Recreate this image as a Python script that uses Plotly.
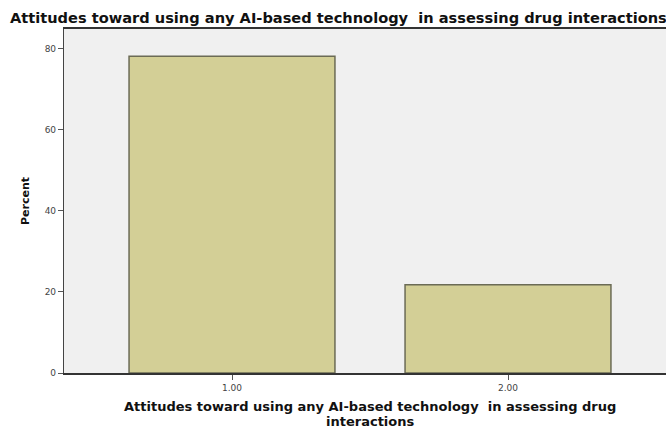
import plotly.graph_objects as go

categories = [1, 2]
tick_labels = ["1.00", "2.00"]
percent = [78.2, 21.8]
y_ticks = [0, 20, 40, 60, 80]

title_text = "Attitudes toward using any AI-based technology  in assessing drug interactions"
x_title_line1 = "Attitudes toward using any AI-based technology  in assessing drug"
x_title_line2 = "interactions"

fig = go.Figure()
fig.add_trace(go.Bar(
    x=categories, y=percent, width=0.746,
    marker=dict(color="#d3cf96", line=dict(color="#6b6b55", width=1.5)),
))

fig.update_layout(
    width=666, height=429,
    margin=dict(l=64, r=0, t=29, b=56),
    paper_bgcolor="white", plot_bgcolor="#f0f0f0",
    showlegend=False,
    font=dict(family="DejaVu Sans", color="#222"),
    title=dict(text=title_text, x=10/666, xanchor="left", xref="container",
               y=1 - 17.5/429, yanchor="middle", yref="container",
               font=dict(size=14.6, weight="bold", color="#111", family="DejaVu Sans")),
)
fig.update_xaxes(
    range=[1 - 168/276, 1 + 434/276], tickvals=categories, ticktext=tick_labels,
    showgrid=False, zeroline=False, showline=True, linecolor="#333", linewidth=1.5,
    mirror=True, ticks="outside", ticklen=5, tickcolor="#555",
    tickfont=dict(size=9, color="#444", family="DejaVu Sans"),
)
fig.update_yaxes(
    range=[0, 84.9], tickvals=y_ticks, showgrid=False, zeroline=False,
    showline=True, linecolor="#444", linewidth=1.2, ticks="outside", ticklen=5,
    tickcolor="#555", tickfont=dict(size=9, color="#444", family="DejaVu Sans"),
)
axis_title_font = dict(size=13, weight="bold", color="#111", family="DejaVu Sans")
fig.add_annotation(text=x_title_line1, xref="paper", yref="paper", x=0.5, y=0,
                   xanchor="center", yanchor="middle", yshift=-33, xshift=5,
                   showarrow=False, font=axis_title_font)
fig.add_annotation(text=x_title_line2, xref="paper", yref="paper", x=0.5, y=0,
                   xanchor="center", yanchor="middle", yshift=-48, xshift=5,
                   showarrow=False, font=axis_title_font)
fig.add_annotation(text="Percent", xref="paper", yref="paper", x=0, y=0.5,
                   xanchor="center", yanchor="middle", xshift=-39, textangle=-90,
                   showarrow=False,
                   font=dict(size=11, weight="bold", color="#111", family="DejaVu Sans"))

fig.write_html("out.html", post_script="document.body.style.margin='0';",
               config={"displayModeBar": False})
